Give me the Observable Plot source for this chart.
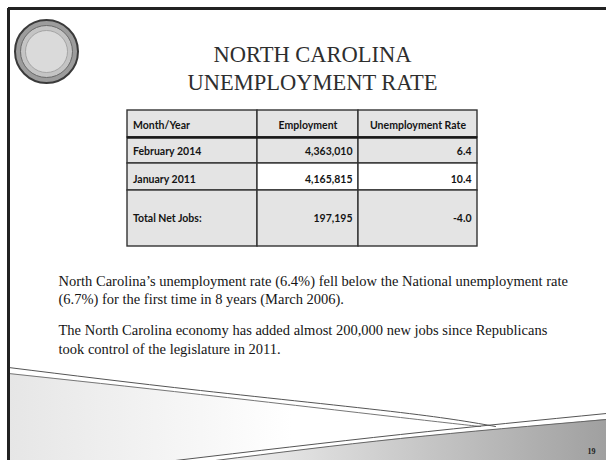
<!DOCTYPE html>
<html><head><meta charset="utf-8">
<script src="https://cdn.jsdelivr.net/npm/d3@7"></script>
<script src="https://cdn.jsdelivr.net/npm/@observablehq/plot@0.6"></script>
<style>html,body{margin:0;padding:0;background:#fff;overflow:hidden}</style>
</head><body><div id="chart"></div>
<script>
// ---- content ----
const titleLines = ["NORTH CAROLINA", "UNEMPLOYMENT RATE"];
const columns = ["Month/Year", "Employment", "Unemployment Rate"];
const periods = ["February 2014", "January 2011", "Total Net Jobs:"];
const employment = [4363010, 4165815, 197195];
const unemploymentRate = [6.4, 10.4, -4.0];
const notes = [
  "North Carolina\u2019s unemployment rate (6.4%) fell below the National unemployment rate",
  "(6.7%) for the first time in 8 years (March 2006).",
  "The North Carolina economy has added almost 200,000 new jobs since Republicans",
  "took control of the legislature in 2011."
];
const pageNumber = "19";

// ---- layout (slide geometry, in px of the 606x460 slide) ----
const colEdges = [127, 257, 358, 477];
const rowEdges = [110, 137, 163, 190, 246];
const rowTextShift = [1.5, 1.5, 2.5, 0];
const titleX = 312, titleY = [54, 82.5];
const noteX = 58, noteY = [280.5, 299, 329.5, 348.5];
const seal = {x: 46, y: 51};
const upperLine1 = [{x: 8, y: 367}, {x: 200, y: 390}, {x: 400, y: 412}, {x: 495, y: 426}];
const upperLine2 = [{x: 8, y: 373}, {x: 200, y: 394}, {x: 400, y: 417}, {x: 480, y: 426}];
const lowerLine1 = [{x: 175, y: 460}, {x: 400, y: 434}, {x: 606, y: 413}];
const lowerLine2 = [{x: 215, y: 460}, {x: 400, y: 438}, {x: 606, y: 419}];
const lowerBand = lowerLine2.map(p => ({x: p.x, y1: p.y, y2: 460}));
const leftBand = [{x: 8, y1: 373, y2: 460}, {x: 175, y1: 391, y2: 460}, {x: 400, y1: 417, y2: 434}, {x: 480, y1: 426, y2: 426}];

const loc = d3.formatLocale({decimal: ".", thousands: ",", grouping: [3], currency: ["$", ""], minus: "-"});
const fmtInt = loc.format(",d"), fmtRate = loc.format(".1f");
const tableRows = [columns, ...periods.map((p, i) => [p, fmtInt(employment[i]), fmtRate(unemploymentRate[i])])];
const cells = tableRows.flatMap((row, r) => row.map((text, c) => ({
  r, c, text,
  x1: colEdges[c], x2: colEdges[c + 1], y1: rowEdges[r], y2: rowEdges[r + 1],
  fill: (r === 2 && c > 0) ? "#ffffff" : "#e4e4e4",
  anchor: c === 0 ? "start" : (r === 0 ? "middle" : "end"),
  tx: c === 0 ? colEdges[c] + 5.5 : (r === 0 ? (colEdges[c] + colEdges[c + 1]) / 2 : colEdges[c + 1] - 6),
  ty: (rowEdges[r] + rowEdges[r + 1]) / 2 + rowTextShift[r]
})));

const defs = () => {
  const d = d3.create("svg:defs");
  const g = d.append("linearGradient").attr("id", "lowGrad").attr("x1", 0).attr("x2", 1).attr("y1", 0).attr("y2", 0);
  g.append("stop").attr("offset", "0%").attr("stop-color", "#f2f2f2");
  g.append("stop").attr("offset", "100%").attr("stop-color", "#a0a0a0");
  const h = d.append("linearGradient").attr("id", "leftGrad").attr("x1", 0).attr("x2", 1).attr("y1", 0).attr("y2", 0);
  h.append("stop").attr("offset", "0%").attr("stop-color", "#e6e6e6");
  h.append("stop").attr("offset", "60%").attr("stop-color", "#ffffff");
  return d.node();
};

const tableFont = {fontFamily: "Lato, 'DejaVu Sans', sans-serif", fontWeight: "bold", fontSize: 10.5, fill: "#141414"};

const chart = Plot.plot({
  width: 606, height: 460, margin: 0,
  x: {domain: [0, 606], range: [0, 606], axis: null},
  y: {domain: [0, 460], range: [0, 460], axis: null},
  color: {type: "identity"},
  style: {background: "#fff"},
  marks: [
    defs,
    // bottom decoration
    Plot.areaY(leftBand, {x: "x", y1: "y1", y2: "y2", fill: "url(#leftGrad)", curve: "linear"}),
    Plot.areaY(lowerBand, {x: "x", y1: "y1", y2: "y2", fill: "url(#lowGrad)", curve: "linear"}),
    Plot.line(upperLine1, {x: "x", y: "y", stroke: "#555", strokeWidth: 1, curve: "natural"}),
    Plot.line(upperLine2, {x: "x", y: "y", stroke: "#777", strokeWidth: 1, curve: "natural"}),
    Plot.line(lowerLine1, {x: "x", y: "y", stroke: "#555", strokeWidth: 1, curve: "natural"}),
    Plot.line(lowerLine2, {x: "x", y: "y", stroke: "#666", strokeWidth: 1, curve: "natural"}),
    // frame
    Plot.ruleX([8], {y1: 8, y2: 460, stroke: "#222", strokeWidth: 3}),
    Plot.ruleY([8], {x1: 8, x2: 606, stroke: "#222", strokeWidth: 3}),
    // seal
    Plot.dot([seal], {x: "x", y: "y", r: 31.5, fill: "#9c9c9c", stroke: "#3a3a3a", strokeWidth: 2}),
    Plot.dot([seal], {x: "x", y: "y", r: 26, fill: "#c4c4c4", stroke: "#6a6a6a", strokeWidth: 1}),
    Plot.dot([seal], {x: "x", y: "y", r: 21, fill: "#dadada", stroke: "#999", strokeWidth: 0.8}),
    // title
    Plot.text(titleLines, {x: () => titleX, y: (d, i) => titleY[i], text: d => d, fontFamily: "'Liberation Serif', serif", fontSize: 22.5, fill: "#2e2e2e", textAnchor: "middle", lineAnchor: "middle"}),
    // table
    Plot.rect(cells, {x1: "x1", x2: "x2", y1: "y1", y2: "y2", fill: "fill", stroke: "#333", strokeWidth: 1.4}),
    Plot.ruleY([rowEdges[1]], {x1: colEdges[0], x2: colEdges[3], stroke: "#1a1a1a", strokeWidth: 2.6}),
    Plot.text(cells.filter(d => d.anchor === "start"), {x: "tx", y: "ty", text: "text", textAnchor: "start", ...tableFont}),
    Plot.text(cells.filter(d => d.anchor === "middle"), {x: "tx", y: "ty", text: "text", textAnchor: "middle", ...tableFont}),
    Plot.text(cells.filter(d => d.anchor === "end"), {x: "tx", y: "ty", text: "text", textAnchor: "end", ...tableFont}),
    // notes
    Plot.text(notes, {x: () => noteX, y: (d, i) => noteY[i], text: d => d, textAnchor: "start", fontFamily: "'Liberation Serif', serif", fontSize: 14.5, fill: "#151515"}),
    // page number
    Plot.text([pageNumber], {x: () => 591, y: () => 451, text: d => d, fontFamily: "'Liberation Serif', serif", fontWeight: "bold", fontSize: 8, fill: "#222"})
  ]
});
document.getElementById("chart").append(chart);
</script>
</body></html>
